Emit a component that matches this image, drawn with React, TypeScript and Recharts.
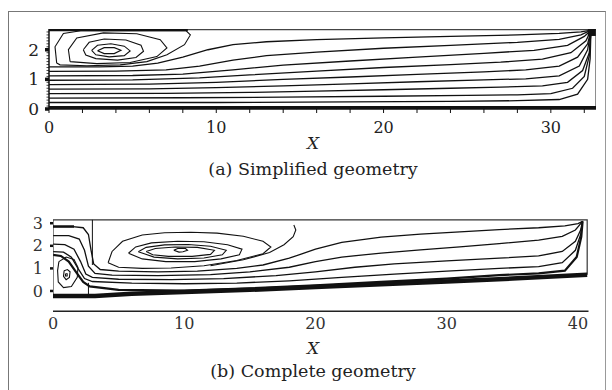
import { ScatterChart, Scatter, XAxis, YAxis } from 'recharts';

type Pt = { x: number; y: number };
const toPts = (arr: number[][]): Pt[] => arr.map(([x, y]) => ({ x, y }));

// ---------- (a) simplified geometry ----------
const X_TICKS_A = [0, 2, 4, 6, 8, 10, 12, 14, 16, 18, 20, 22, 24, 26, 28, 30, 32];
const Y_TICKS_A = [0, 0.1, 0.2, 0.3, 0.4, 0.5, 0.6, 0.7, 0.8, 0.9, 1, 1.1, 1.2, 1.3, 1.4, 1.5, 1.6, 1.7, 1.8, 1.9, 2, 2.1, 2.2, 2.3, 2.4, 2.5, 2.6];

const WALLS_A = [[0, 2.68], [32.7, 2.68], [32.7, 0.02]];
const TOP_THICK_A = [[0, 2.67], [8.3, 2.67]];
const BOTTOM_A = [[0, 0.03], [32.7, 0.03]];
const OUTLET_A = [[32.45, 2.6]];

const STREAMS_A = [
  [[0, 1.42], [3, 1.42], [5, 1.45], [6.5, 1.55], [8, 1.75], [9.5, 2.0], [11, 2.17], [13, 2.27], [16, 2.34], [20, 2.4], [24, 2.45], [28, 2.5], [30.5, 2.55], [31.8, 2.6], [32.4, 2.66]],
  [[0, 1.27], [4, 1.28], [7, 1.32], [9, 1.45], [11, 1.65], [13, 1.8], [16, 1.92], [20, 2.05], [24, 2.15], [28, 2.25], [30.5, 2.35], [31.8, 2.5], [32.4, 2.66]],
  [[0, 1.12], [5, 1.13], [8, 1.18], [11, 1.32], [14, 1.48], [18, 1.62], [22, 1.75], [26, 1.88], [29, 1.98], [31, 2.15], [32, 2.45], [32.4, 2.66]],
  [[0, 0.97], [5, 0.98], [9, 1.05], [12, 1.15], [16, 1.28], [20, 1.4], [24, 1.5], [27, 1.58], [29.5, 1.68], [31.2, 1.9], [32.1, 2.3], [32.4, 2.66]],
  [[0, 0.82], [6, 0.84], [10, 0.9], [14, 1.0], [18, 1.08], [22, 1.17], [26, 1.25], [28.5, 1.32], [30.5, 1.45], [31.6, 1.75], [32.2, 2.2], [32.4, 2.66]],
  [[0, 0.67], [6, 0.68], [10, 0.72], [14, 0.78], [18, 0.85], [22, 0.92], [26, 0.98], [28.5, 1.02], [30.5, 1.12], [31.7, 1.45], [32.2, 2.0], [32.4, 2.66]],
  [[0, 0.52], [7, 0.53], [12, 0.56], [16, 0.6], [20, 0.65], [24, 0.7], [27, 0.74], [29.5, 0.78], [31, 0.9], [31.9, 1.3], [32.3, 1.9], [32.4, 2.66]],
  [[0, 0.37], [8, 0.38], [14, 0.4], [20, 0.43], [25, 0.46], [28, 0.48], [30, 0.52], [31.3, 0.7], [32, 1.1], [32.3, 1.8], [32.4, 2.66]],
  [[0, 0.22], [10, 0.22], [18, 0.24], [24, 0.26], [28, 0.28], [30.5, 0.32], [31.6, 0.5], [32.2, 1.0], [32.35, 1.7], [32.4, 2.66]],
];

const VORTEX_A = [
  [[0.46, 1.55], [0.36, 2.1], [0.86, 2.55], [1.9, 2.64], [5, 2.64], [8.2, 2.64], [8.45, 2.5], [8.1, 2.17], [7.05, 1.83], [5.85, 1.6], [4.25, 1.49], [2.26, 1.46], [0.66, 1.49], [0.46, 1.55]],
  [[1.26, 1.6], [1.16, 2.0], [1.66, 2.4], [3.25, 2.57], [5.25, 2.54], [6.65, 2.34], [7.05, 2.06], [6.45, 1.77], [4.85, 1.57], [2.86, 1.53], [1.26, 1.6]],
  [[2.05, 2.0], [2.4, 2.25], [3.3, 2.36], [4.6, 2.33], [5.5, 2.15], [5.65, 1.95], [5.2, 1.74], [4.1, 1.65], [2.8, 1.7], [2.2, 1.82], [2.05, 2.0]],
  [[2.55, 1.98], [2.9, 2.15], [3.7, 2.2], [4.5, 2.12], [4.85, 1.96], [4.5, 1.8], [3.6, 1.76], [2.8, 1.83], [2.55, 1.98]],
  [[2.9, 1.97], [3.3, 2.07], [3.9, 2.07], [4.3, 1.98], [3.9, 1.87], [3.3, 1.87], [2.9, 1.97]],
];

// ---------- (b) complete geometry ----------
const X_TICKS_B = [0, 10, 20, 30, 40];
const Y_TICKS_B = [0, 1, 2, 3];

const WALLS_B = [[0, -0.22], [0, 3.15], [40.7, 3.15], [40.7, 0.72]];
const BOTTOM_B = [[0, -0.22], [3.2, -0.22], [6, -0.12], [10, -0.05], [15, 0.05], [20, 0.18], [25, 0.3], [30, 0.42], [35, 0.55], [40.7, 0.72]];
const BAFFLE_B = [[3.0, 3.15], [3.0, 1.15]];
const SEGMENT_B = [[2.7, 0.36], [2.7, -0.2]];
const INLET_THICK_B = [[0, 2.85], [1.6, 2.85]];

const STREAMS_B = [
  [[0, 2.85], [1.5, 2.85], [2.3, 2.8], [2.7, 2.5], [2.9, 1.8], [3.1, 1.2], [3.6, 0.95], [5, 0.88], [8, 0.85], [11, 0.88], [14, 1.0], [16, 1.15], [18, 1.45], [20, 1.85], [22, 2.15], [25, 2.38], [28, 2.52], [31, 2.62], [34, 2.72], [37, 2.8], [39, 2.88], [40, 2.98], [40.35, 3.08]],
  [[0, 2.45], [1.2, 2.45], [2.0, 2.3], [2.4, 1.8], [2.7, 1.1], [3.2, 0.78], [4.5, 0.7], [8, 0.68], [12, 0.72], [15, 0.85], [18, 1.05], [20, 1.3], [22, 1.5], [25, 1.68], [28, 1.82], [31, 1.95], [34, 2.1], [37, 2.25], [38.8, 2.42], [39.8, 2.7], [40.35, 3.08]],
  [[0, 2.07], [0.9, 2.05], [1.6, 1.85], [2.1, 1.3], [2.5, 0.75], [3, 0.6], [5, 0.52], [9, 0.5], [13, 0.55], [17, 0.68], [20, 0.85], [23, 1.05], [26, 1.2], [30, 1.33], [34, 1.45], [37, 1.55], [38.8, 1.75], [39.8, 2.2], [40.2, 2.7], [40.35, 3.08]],
  [[0, 1.74], [0.8, 1.72], [1.4, 1.5], [1.9, 1.0], [2.4, 0.55], [3, 0.42], [6, 0.35], [10, 0.32], [14, 0.35], [18, 0.45], [22, 0.6], [26, 0.75], [30, 0.88], [34, 1.0], [37, 1.08], [38.8, 1.25], [39.8, 1.8], [40.2, 2.5], [40.35, 3.08]],
  [[0, 1.6], [0.6, 1.55], [1.2, 1.3], [1.8, 0.8], [2.3, 0.4], [2.8, 0.2], [5, 0.05], [10, 0.02], [15, 0.12], [20, 0.25], [25, 0.4], [30, 0.55], [34, 0.7], [37, 0.78], [39, 0.9], [39.9, 1.5], [40.25, 2.4], [40.35, 3.08]],
];

const VORTEX_B = [
  [[18.35, 2.92], [18.5, 2.7], [18.3, 2.4], [17.6, 2.05], [16.5, 1.7], [14.5, 1.38], [12, 1.12]],
  [[4.2, 1.25], [4.5, 1.75], [5.3, 2.2], [6.8, 2.48], [8.5, 2.58], [10.5, 2.6], [12.5, 2.56], [14.5, 2.42], [16, 2.2], [16.6, 1.95], [16, 1.65], [14, 1.35], [11.5, 1.12], [9, 1.02], [6.8, 1.0], [5, 1.05], [4.2, 1.25]],
  [[5.75, 1.67], [6.3, 1.95], [7.5, 2.13], [9.5, 2.2], [11.5, 2.18], [13.3, 2.05], [14.4, 1.85], [14.2, 1.6], [12.8, 1.42], [10.8, 1.3], [8.6, 1.3], [6.8, 1.42], [5.75, 1.67]],
  [[6.5, 1.74], [7.1, 1.93], [8.5, 2.04], [10.3, 2.06], [12, 1.98], [13.2, 1.8], [12.9, 1.6], [11.5, 1.46], [9.5, 1.42], [7.7, 1.5], [6.5, 1.74]],
  [[7.1, 1.75], [7.8, 1.88], [9.3, 1.95], [11, 1.93], [12.3, 1.8], [12, 1.62], [10.6, 1.53], [8.8, 1.53], [7.6, 1.6], [7.1, 1.75]],
  [[9.2, 1.8], [9.5, 1.88], [10.1, 1.88], [10.25, 1.8], [9.9, 1.74], [9.6, 1.72], [9.2, 1.8]],
  [[0.45, 1.3], [0.35, 0.9], [0.4, 0.4], [0.8, 0.15], [1.4, 0.2], [1.85, 0.6], [1.9, 1.05], [1.6, 1.4], [1.0, 1.5], [0.45, 1.3]],
  [[0.85, 0.9], [0.8, 0.65], [1.0, 0.5], [1.25, 0.6], [1.3, 0.85], [1.1, 0.95], [0.85, 0.9]],
  [[0.95, 0.76], [0.95, 0.66], [1.08, 0.66], [1.08, 0.76], [0.95, 0.76]],
];

const FONT = '"DejaVu Serif", "Liberation Serif", serif';
const INK = '#111';
const noDot = () => <g />;

const XTickA = ({ x, y, payload }: any) => (
  <g>
    <line x1={x} x2={x} y1={y} y2={y + 4} stroke={INK} strokeWidth={1} />
    {payload.value % 10 === 0 && (
      <text x={x} y={y + 18} dy="0.35em" textAnchor="middle" fontFamily={FONT} fontSize={16} fill="#222">
        {payload.value}
      </text>
    )}
  </g>
);

const YTickA = ({ x, y, payload }: any) => {
  const major = Number.isInteger(payload.value);
  return (
    <g>
      <line x1={x - (major ? 4 : 2.5)} x2={x} y1={y} y2={y} stroke={INK} strokeWidth={major ? 3.5 : 0.8} />
      {major && (
        <text x={x - 10} y={y} dy="0.35em" textAnchor="end" fontFamily={FONT} fontSize={17} fill="#222">
          {payload.value}
        </text>
      )}
    </g>
  );
};

const XTickB = ({ x, y, payload }: any) => (
  <text x={x} y={y + 12} dy="0.35em" textAnchor="middle" fontFamily={FONT} fontSize={16} fill="#333">
    {payload.value}
  </text>
);

const YTickB = ({ x, y, payload }: any) => (
  <g>
    <line x1={x - 3} x2={x} y1={y} y2={y} stroke={INK} strokeWidth={2.5} />
    <text x={x - 10} y={y} dy="0.35em" textAnchor="end" fontFamily={FONT} fontSize={16} fill="#333">
      {payload.value}
    </text>
  </g>
);

const line = (data: number[][], key: string, width = 1.3, color = INK) => (
  <Scatter
    key={key}
    data={toPts(data)}
    line={{ stroke: color, strokeWidth: width }}
    lineType="joint"
    shape={noDot}
    isAnimationActive={false}
  />
);

const labelStyle: React.CSSProperties = {
  position: 'absolute',
  left: 0,
  width: 626,
  textAlign: 'center',
  fontFamily: FONT,
  color: '#222',
  lineHeight: 1,
};

export default function App() {
  return (
    <div style={{ position: 'fixed', left: 0, top: 0, width: 612, height: 390, background: '#fff', overflow: 'hidden' }}>
      <div
        style={{
          position: 'absolute', left: 8, top: 11, width: 596, height: 400,
          borderLeft: '1.5px solid #777', borderTop: '1.5px solid #777', borderRight: '1.5px solid #999',
        }}
      />

      {/* (a) */}
      <div style={{ position: 'absolute', left: 0, top: 0 }}>
        <ScatterChart width={612} height={200} margin={{ top: 29, right: 16, bottom: 61, left: 9 }}>
          <XAxis
            type="number" dataKey="x" domain={[0, 32.7]} ticks={X_TICKS_A} allowDataOverflow
            axisLine={{ stroke: INK, strokeWidth: 1.5 }} tickLine={false} tickSize={0} tickMargin={0}
            tick={<XTickA />} height={30} interval={0}
          />
          <YAxis
            type="number" dataKey="y" domain={[0, 2.7]} ticks={Y_TICKS_A} allowDataOverflow
            axisLine={{ stroke: INK, strokeWidth: 1.5 }} tickLine={false} tickSize={0} tickMargin={0}
            tick={<YTickA />} width={40} interval={0}
          />
          {STREAMS_A.map((s, i) => line(s, `sa${i}`))}
          {VORTEX_A.map((s, i) => line(s, `va${i}`, 1.1))}
          {line(WALLS_A, 'wa', 1.2, '#444')}
          {line(TOP_THICK_A, 'ta', 2.5)}
          {line(BOTTOM_A, 'ba', 4)}
          <Scatter
            data={toPts(OUTLET_A)}
            isAnimationActive={false}
            shape={(p: any) => <rect x={p.cx - 4} y={p.cy - 4} width={8} height={8} fill={INK} />}
          />
        </ScatterChart>
      </div>
      <div style={{ ...labelStyle, top: 135, fontSize: 17, fontStyle: 'italic' }}>X</div>
      <div style={{ ...labelStyle, top: 161, fontSize: 17.5 }}>(a) Simplified geometry</div>

      {/* (b) */}
      <div style={{ position: 'absolute', left: 0, top: 200 }}>
        <ScatterChart width={612} height={190} margin={{ top: 18.7, right: 23.5, bottom: 48.7, left: 13 }}>
          <XAxis
            type="number" dataKey="x" domain={[0, 40.8]} ticks={X_TICKS_B} allowDataOverflow
            axisLine={{ stroke: '#222', strokeWidth: 1.5 }} tickLine={false} tickSize={0} tickMargin={0}
            tick={<XTickB />} height={30} interval={0}
          />
          <YAxis
            type="number" dataKey="y" domain={[-0.9, 3.2]} ticks={Y_TICKS_B} allowDataOverflow
            axisLine={false} tickLine={false} tickSize={0} tickMargin={0}
            tick={<YTickB />} width={40} interval={0}
          />
          {STREAMS_B.map((s, i) => line(s, `sb${i}`, i === 4 ? 2.2 : 1.3))}
          {VORTEX_B.map((s, i) => line(s, `vb${i}`, 1.1))}
          {line(WALLS_B, 'wb', 1.2, '#333')}
          {line(BOTTOM_B, 'bb', 4.5)}
          {line(BAFFLE_B, 'bf', 1)}
          {line(SEGMENT_B, 'sg', 1)}
          {line(INLET_THICK_B, 'ib', 2.5)}
        </ScatterChart>
      </div>
      <div style={{ ...labelStyle, top: 340, fontSize: 17, fontStyle: 'italic' }}>X</div>
      <div style={{ ...labelStyle, top: 363, fontSize: 17.5 }}>(b) Complete geometry</div>
    </div>
  );
}
